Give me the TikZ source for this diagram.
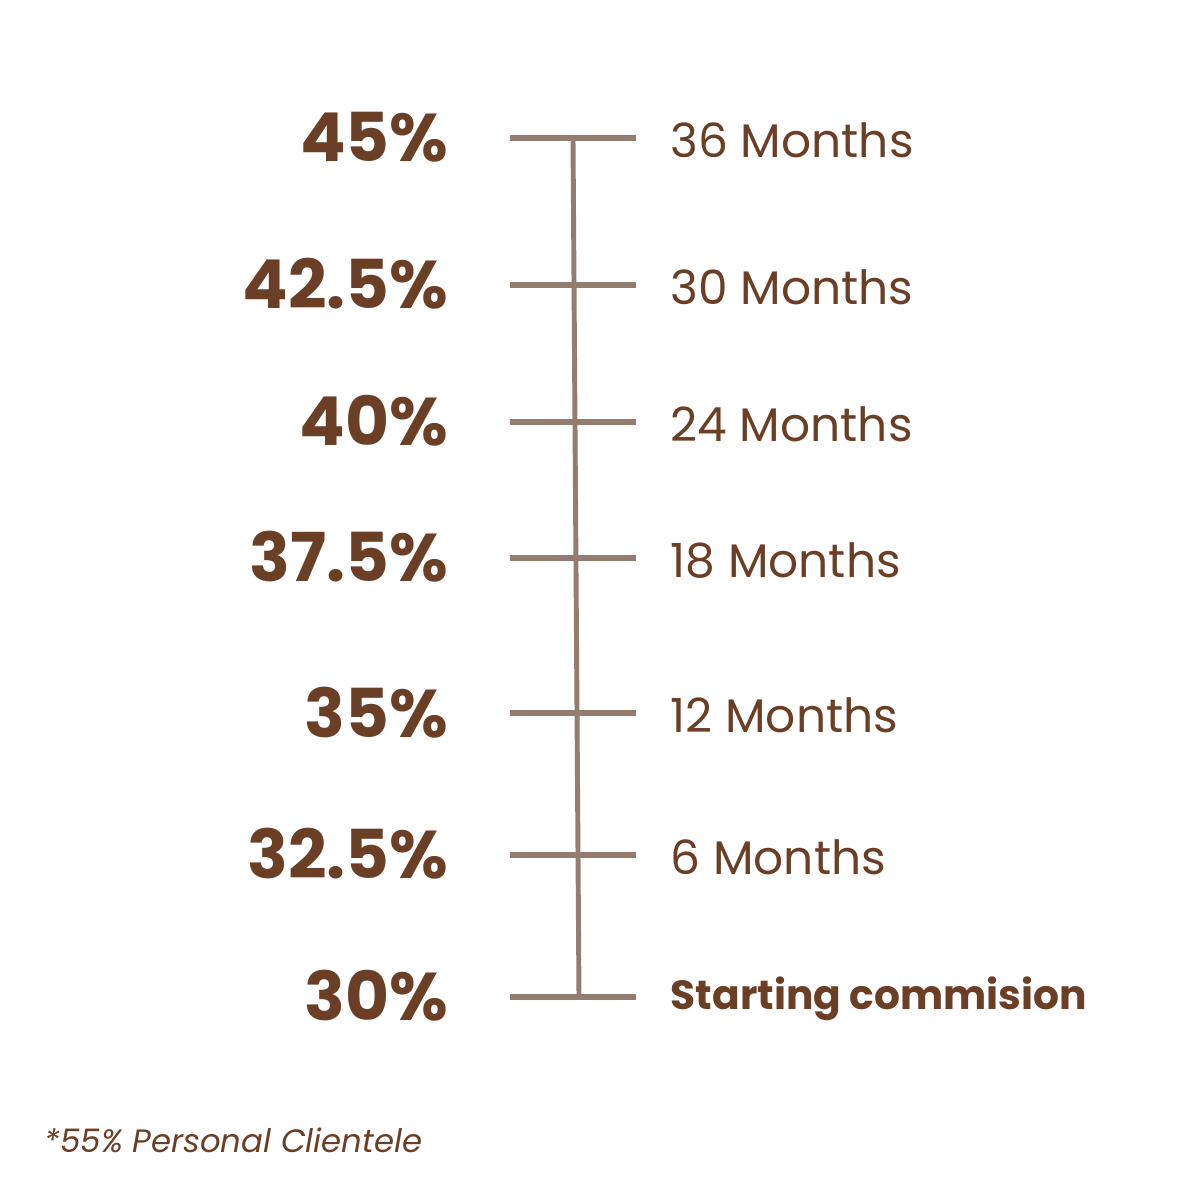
\documentclass[tikz,border=0pt]{standalone}
\usepackage{fontspec}
\setmainfont{Poppins}
\usepackage{tikz}
\usetikzlibrary{positioning,calc}
\definecolor{brownink}{HTML}{6B3F26}
\definecolor{ruleclr}{HTML}{937C70}
\tikzstyle{pct} = [anchor=base east, inner sep=0pt, text=brownink, font=\fontsize{19.2}{23}\selectfont\bfseries]
\tikzstyle{month} = [anchor=base west, inner sep=0pt, text=brownink, font=\fontsize{13.4}{16}\selectfont]
\tikzstyle{tick} = [draw=ruleclr, line width=1.7pt]

\begin{document}
\begin{tikzpicture}
    \useasboundingbox (0,0) rectangle (12,12);
    % tick rows: y, percentage, month
    \foreach \i/\y/\p/\m in {1/10.62/45\%/36 Months, 2/9.15/42.5\%/30 Months, 3/7.78/40\%/24 Months,
                             4/6.42/37.5\%/18 Months, 5/4.87/35\%/12 Months, 6/3.45/32.5\%/6 Months} {
        \coordinate (l\i) at (5.10,\y);
        \coordinate (r\i) at (6.36,\y);
        \node[pct] (p\i) at (4.49,\y-0.24) {\p};
        \node[month] (m\i) at (6.70,\y-0.20) {\m};
        \draw[tick] (l\i) -- (r\i);
    }
    \coordinate (l7) at (5.10,2.03);
    \coordinate (r7) at (6.36,2.03);
    \node[pct] (p7) at (4.49,2.03-0.24) {30\%};
    \node[month, font=\fontsize{11.6}{14}\selectfont\bfseries] (m7) at (6.70,2.03-0.13) {Starting commision};
    \draw[tick] (l7) -- (r7);
    % spine
    \coordinate (top) at (5.73,10.62);
    \coordinate (bot) at (5.79,2.03);
    \draw[draw=ruleclr, line width=1.4pt] (top) -- (bot);
    \node[anchor=base west, inner sep=0pt, text=brownink, font=\fontsize{9.2}{11}\selectfont\itshape] (note) at (0.44,0.48) {*55\% Personal Clientele};
\end{tikzpicture}
\end{document}
